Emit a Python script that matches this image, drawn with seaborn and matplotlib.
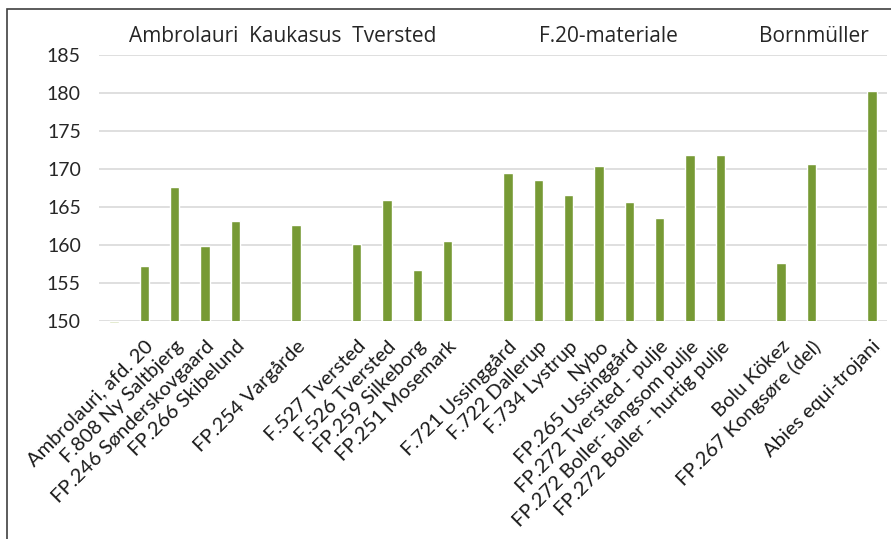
import matplotlib
matplotlib.use("Agg")
import matplotlib.pyplot as plt
import numpy as np
import pandas as pd
import seaborn as sns
from matplotlib.patches import Rectangle

# categories (blank labels are empty slots between the groups)
labels = ["", "Ambrolauri, afd. 20", "F.808 Ny Saltbjerg", "FP.246 Sønderskovgaard",
          "FP.266 Skibelund", " ", "FP.254 Vargårde", "  ", "F.527 Tversted",
          "F.526 Tversted", "FP.259 Silkeborg", "FP.251 Mosemark", "   ",
          "F.721 Ussinggård", "F.722 Dallerup", "F.734 Lystrup", "Nybo",
          "FP.265 Ussinggård", "FP.272 Tversted - pulje", "FP.272 Boller- langsom pulje",
          "FP.272 Boller - hurtig pulje", "    ", "Bolu Kökez", "FP.267 Kongsøre (del)",
          "     ", "Abies equi-trojani"]
values = [149.7, 157.3, 167.6, 159.9, 163.2, np.nan, 162.6, np.nan, 160.1,
          165.9, 156.7, 160.5, np.nan, 169.5, 168.6, 166.6, 170.4, 165.7,
          163.5, 171.9, 171.9, np.nan, 157.6, 170.7, np.nan, 180.3]
groups = ["Ambrolauri  Kaukasus  Tversted", "F.20-materiale", "Bornmüller"]
group_centers = [5.56, 16.3, 23.1]

df = pd.DataFrame({"label": labels, "value": values})

sns.set_style("white")
plt.rcParams["font.family"] = ["Lato", "DejaVu Sans"]

fig = plt.figure(figsize=(8.91, 5.39), dpi=100)
ax = fig.add_axes([99 / 891, 1 - 321 / 539, 788 / 891, 266 / 539])

sns.barplot(data=df, x="label", y="value", color="#779a35", width=0.31,
            saturation=1, ax=ax, zorder=3)

# first slot sits just under the axis minimum: show it as a pale stub
p0 = ax.patches[0]
p0.set_y(150)
p0.set_height(values[0] - 150)
p0.set_clip_on(False)
p0.set_facecolor("#d3dfb4")

ax.set_ylim(150, 185)
ax.set_xlim(-0.5, len(labels) - 0.5)
ax.set_yticks(np.arange(150, 186, 5))
ax.yaxis.grid(True, color="#d9d9d9", linewidth=1.2)
ax.set_axisbelow(True)
for s in ax.spines.values():
    s.set_visible(False)
ax.set_xlabel("")
ax.set_ylabel("")
ax.tick_params(axis="y", labelsize=14, colors="#262626", length=0, pad=13)
ax.tick_params(axis="x", length=0, pad=12)
ax.set_xticks(range(len(labels)))
ax.set_xticklabels(labels, rotation=45, ha="right", rotation_mode="anchor",
                   fontsize=14.5, color="#1a1a1a")
for t in ax.get_xticklabels():
    t.set_x(t.get_position()[0] + 0.12)

for g, c in zip(groups, group_centers):
    ax.text(c, 187.5, g, ha="center", va="center", fontsize=15,
            color="#262626", family=["Open Sans", "DejaVu Sans"])

# chart frame (cut off on the right and bottom)
fig.add_artist(Rectangle((7 / 891, -0.2), 1.2, 1.2 - 9 / 539,
                         transform=fig.transFigure, fill=False,
                         edgecolor="#404040", linewidth=1.2))

fig.savefig("out.png", dpi=100)
